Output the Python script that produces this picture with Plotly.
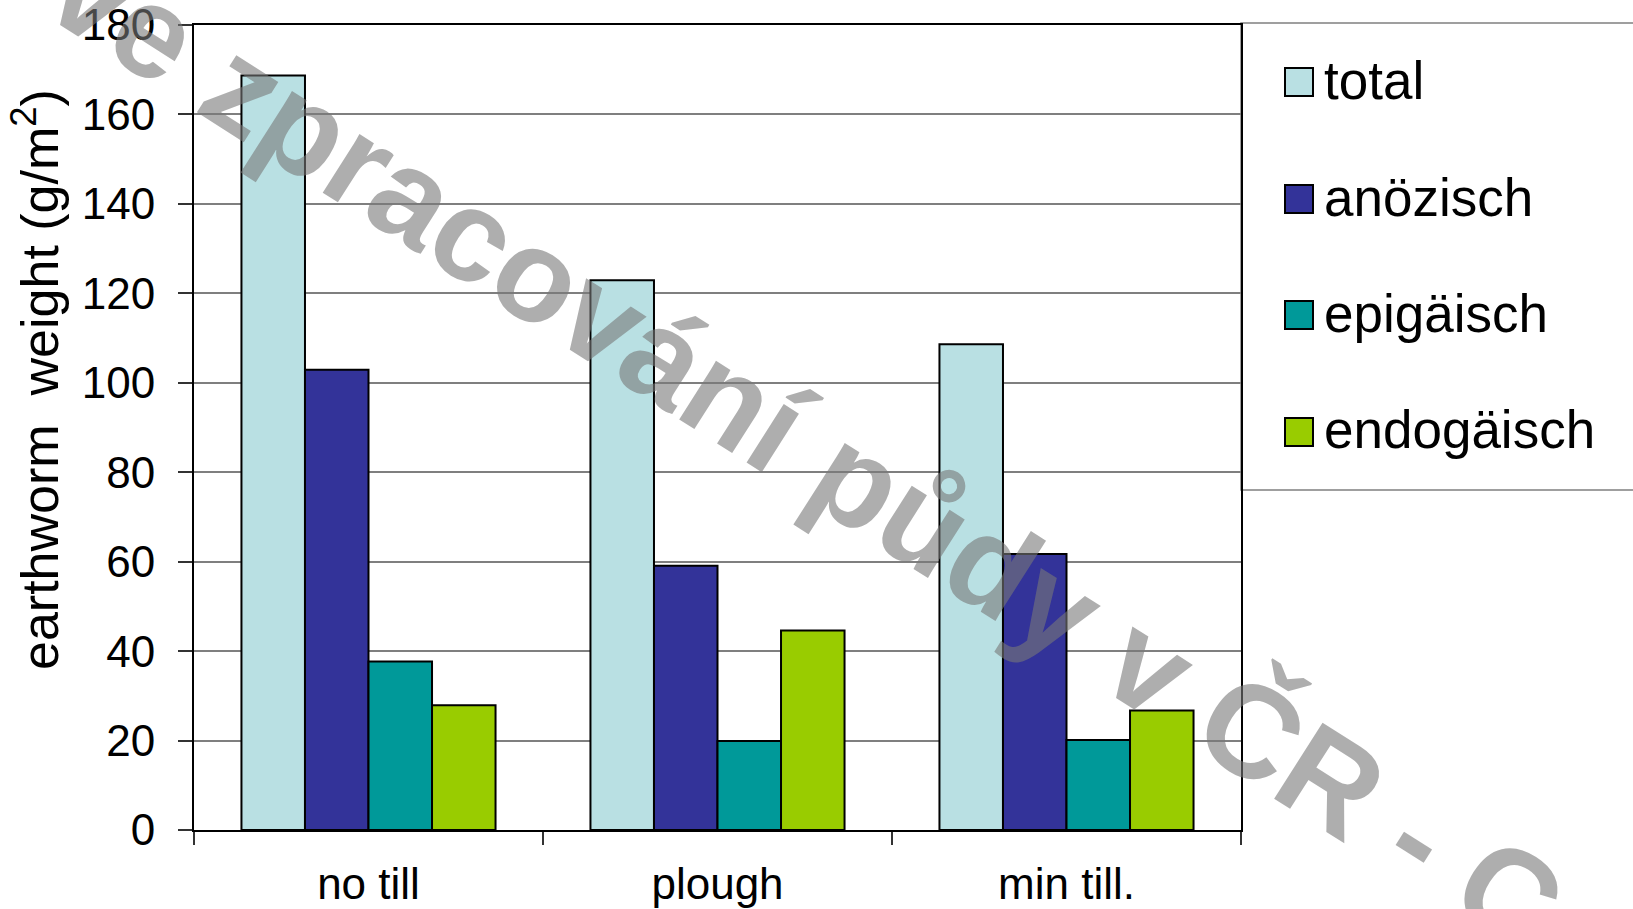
import plotly.graph_objects as go

# Earthworm biomass by tillage system and ecological group
categories = ["no till", "plough", "min till."]
series_names = ["total", "anözisch", "epigäisch", "endogäisch"]
total = [168.7, 122.9, 108.6]
anoezisch = [102.9, 59.1, 61.7]
epigaeisch = [37.7, 19.9, 20.1]
endogaeisch = [27.9, 44.6, 26.7]
series_values = [total, anoezisch, epigaeisch, endogaeisch]
series_colors = ["#B9E0E3", "#333399", "#009999", "#99CC00"]
y_ticks = [0, 20, 40, 60, 80, 100, 120, 140, 160, 180]
y_title = "earthworm&nbsp; weight (g/m<sup>2</sup>)"
watermark = "ve zpracování půdy v ČR - C"

W, H = 1633, 909
L, R, T, B = 194, 1241, 25, 830  # plot area in pixels
FONT = "Liberation Sans, Arial, sans-serif"


def px_x(px):
    return (px - L) / (R - L)


def px_y(py):
    return (B - py) / (B - T)


fig = go.Figure()
for name, vals, col in zip(series_names, series_values, series_colors):
    fig.add_trace(go.Bar(
        name=name, x=categories, y=vals,
        marker=dict(color=col, line=dict(color="black", width=2)),
        showlegend=False,
    ))

fig.update_layout(
    width=W, height=H,
    margin=dict(l=L, r=W - R, t=T, b=H - B, pad=0, autoexpand=False),
    paper_bgcolor="white", plot_bgcolor="white",
    barmode="group", bargap=0.272, bargroupgap=0,
    font=dict(family=FONT, color="black"),
)

fig.update_yaxes(
    range=[0, 180], tickvals=y_ticks, automargin=False,
    showgrid=True, gridcolor="#7f7f7f", gridwidth=1.5,
    showline=True, linecolor="black", linewidth=2, mirror=True,
    ticks="outside", ticklen=14, tickcolor="#333333", tickwidth=1.5,
    tickfont=dict(size=44, family=FONT, color="black"),
    ticklabelstandoff=14,
    zeroline=False,
)
fig.update_xaxes(
    automargin=False,
    showline=True, linecolor="black", linewidth=2, mirror=True,
    ticks="outside", ticklen=13, tickcolor="#333333", tickwidth=1.5,
    tickson="boundaries",
    tickfont=dict(size=44, family=FONT, color="black"),
    ticklabelstandoff=14,
)

# y-axis title
fig.add_annotation(
    text=y_title, textangle=-90, showarrow=False,
    xref="paper", yref="paper", x=px_x(36), y=px_y(380),
    xanchor="center", yanchor="middle",
    font=dict(size=52, family=FONT, color="black"),
)

# legend box with swatches and labels
fig.add_shape(
    type="rect", xref="paper", yref="paper",
    x0=px_x(1241), x1=px_x(1645), y0=px_y(490), y1=px_y(23),
    line=dict(color="#808080", width=1.5), fillcolor="white", layer="below",
)
legend_rows = [82, 199, 315, 432]
for name, col, cy in zip(series_names, series_colors, legend_rows):
    fig.add_shape(
        type="rect", xref="paper", yref="paper",
        x0=px_x(1285), x1=px_x(1313), y0=px_y(cy + 14), y1=px_y(cy - 14),
        line=dict(color="black", width=2), fillcolor=col,
    )
    fig.add_annotation(
        text=name, showarrow=False, xref="paper", yref="paper",
        x=px_x(1322), y=px_y(cy - 2), xanchor="left", yanchor="middle",
        font=dict(size=53, family=FONT, color="black"),
    )

# diagonal watermark
fig.add_annotation(
    text=watermark, textangle=32.5, showarrow=False,
    xref="paper", yref="paper", x=px_x(806), y=px_y(447),
    xanchor="center", yanchor="middle",
    font=dict(size=131, family=FONT, color="rgba(120,120,120,0.6)", weight="bold"),
)

fig.write_html("out.html")
